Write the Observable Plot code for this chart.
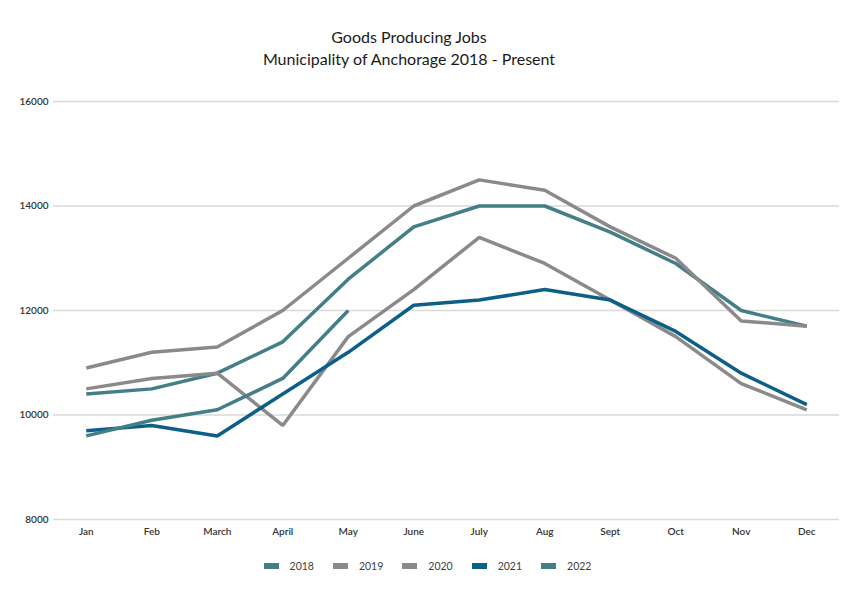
<!DOCTYPE html>
<html>
<head>
<meta charset="utf-8">
<script src="https://cdn.jsdelivr.net/npm/d3@7"></script>
<script src="https://cdn.jsdelivr.net/npm/@observablehq/plot@0.6"></script>
<style>
  body { margin: 0; background: #fff; font-family: Lato, "Open Sans", sans-serif; }
  #wrap { width: 863px; height: 592px; position: relative; }
  #title { position: absolute; top: 26px; left: 0; width: 818px; text-align: center; font-size: 16px; line-height: 22px; color: #1a1a1a; }
  #chart { position: absolute; top: 80px; left: 0; }
  #legend { position: absolute; top: 560px; left: 0; width: 855px; display: flex; justify-content: center; gap: 19px; font-size: 10.5px; color: #404040; }
  .item { display: flex; align-items: center; gap: 11px; }
  .sw { width: 15px; height: 6px; display: inline-block; }
</style>
</head>
<body>
<div id="wrap">
  <div id="title">Goods Producing Jobs<br>Municipality of Anchorage 2018 - Present</div>
  <div id="chart"></div>
  <div id="legend"></div>
</div>
<script>
const months = ["Jan","Feb","March","April","May","June","July","Aug","Sept","Oct","Nov","Dec"];
const years = ["2018","2019","2020","2021","2022"];
const colors = ["#447e86","#8a8a8a","#8a8a8a","#0e5f88","#447e86"];
const yTicks = [8000, 10000, 12000, 14000, 16000];

const v2018 = [10400,10500,10800,11400,12600,13600,14000,14000,13500,12900,12000,11700];
const v2019 = [10900,11200,11300,12000,13000,14000,14500,14300,13600,13000,11800,11700];
const v2020 = [10500,10700,10800,9800,11500,12400,13400,12900,12200,11500,10600,10100];
const v2021 = [9700,9800,9600,10400,11200,12100,12200,12400,12200,11600,10800,10200];
const v2022 = [9600,9900,10100,10700,12000];

const series = [v2018, v2019, v2020, v2021, v2022];
const data = [];
series.forEach((vals, i) => vals.forEach((v, j) => data.push({year: years[i], month: months[j], value: v})));

const chart = Plot.plot({
  width: 863,
  height: 460,
  marginTop: 21,
  marginBottom: 21,
  marginLeft: 53,
  marginRight: 24,
  style: {fontFamily: "Lato, 'Open Sans', sans-serif", fontSize: "10px", color: "#404040", background: "#fff"},
  x: {type: "point", domain: months, padding: 0.5, round: false, label: null},
  y: {domain: [8000, 16000], label: null},
  color: {domain: years, range: colors},
  marks: [
    Plot.gridY(yTicks, {stroke: "#d9d9d9", strokeOpacity: 1, strokeWidth: 1.5}),
    Plot.axisY(yTicks, {tickSize: 0, tickPadding: 5, tickFormat: d => String(d), fontSize: 10, fill: "#333", fontWeight: 600}),
    Plot.axisX({tickSize: 0, tickPadding: 8, fontSize: 10, fill: "#333", fontWeight: 600}),
    Plot.line(data, {x: "month", y: "value", z: "year", stroke: "year", strokeWidth: 3.5, strokeLinejoin: "miter", strokeLinecap: "butt"})
  ]
});
document.getElementById("chart").appendChild(chart);

const legend = document.getElementById("legend");
years.forEach((y, i) => {
  const it = document.createElement("div");
  it.className = "item";
  const sw = document.createElement("span");
  sw.className = "sw";
  sw.style.background = colors[i];
  const t = document.createElement("span");
  t.textContent = y;
  it.appendChild(sw);
  it.appendChild(t);
  legend.appendChild(it);
});
</script>
</body>
</html>
